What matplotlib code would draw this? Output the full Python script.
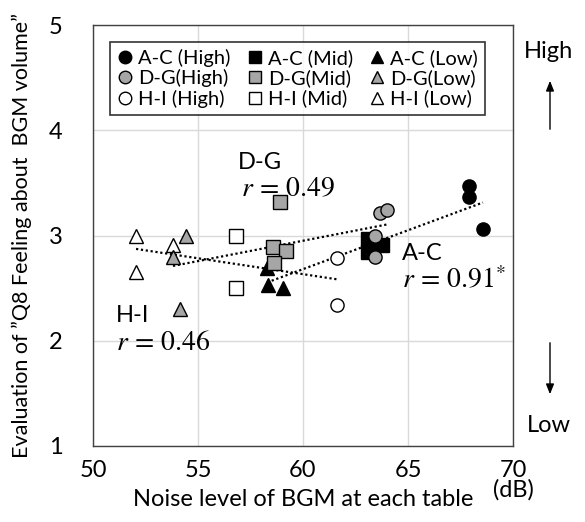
import numpy as np
import matplotlib
matplotlib.use("Agg")
import matplotlib.pyplot as plt
from matplotlib.lines import Line2D
from matplotlib.patches import FancyArrowPatch

plt.rcParams['font.family'] = ['Lato', 'DejaVu Sans']
plt.rcParams['mathtext.fontset'] = 'stix'

# ---- data (noise level dB, evaluation) ----
ac_high_x = [67.9, 67.9, 68.57]
ac_high_y = [3.47, 3.37, 3.06]
ac_mid_x = [63.1, 63.1, 63.76]
ac_mid_y = [2.97, 2.84, 2.91]
ac_low_x = [58.29, 58.33, 59.05]
ac_low_y = [2.69, 2.53, 2.50]

dg_high_x = [63.43, 63.43, 63.67, 64.0]
dg_high_y = [3.0, 2.80, 3.21, 3.24]
dg_mid_x = [58.90, 58.57, 59.19, 58.62]
dg_mid_y = [3.32, 2.89, 2.85, 2.74]
dg_low_x = [54.43, 53.81, 54.14]
dg_low_y = [3.0, 2.80, 2.30]

hi_high_x = [61.62, 61.62]
hi_high_y = [2.79, 2.34]
hi_mid_x = [56.81, 56.81]
hi_mid_y = [3.0, 2.50]
hi_low_x = [52.05, 52.05, 53.81]
hi_low_y = [3.0, 2.65, 2.91]

group_names = ['A-C', 'D-G', 'H-I']
r_labels = ['0.91^{*}', '0.49', '0.46']
level_names = ['High', 'Mid', 'Low']
level_labels = ['(High)', '(Mid)', '(Low)']

W, H = 585, 522
fig = plt.figure(figsize=(W / 100, H / 100), dpi=100)
ax = fig.add_axes([93 / W, 1 - 446 / H, 420 / W, 421 / H])

GRAY = '#a6a6a6'
fills = {'A-C': 'black', 'D-G': GRAY, 'H-I': 'white'}
markers = {'High': 'o', 'Mid': 's', 'Low': '^'}
ms = {'o': 9.5, 's': 9.5, '^': 10}

data = {
    'A-C': {'High': (ac_high_x, ac_high_y), 'Mid': (ac_mid_x, ac_mid_y), 'Low': (ac_low_x, ac_low_y)},
    'D-G': {'High': (dg_high_x, dg_high_y), 'Mid': (dg_mid_x, dg_mid_y), 'Low': (dg_low_x, dg_low_y)},
    'H-I': {'High': (hi_high_x, hi_high_y), 'Mid': (hi_mid_x, hi_mid_y), 'Low': (hi_low_x, hi_low_y)},
}

# trend lines (least squares per group)
for g in group_names:
    xs = np.concatenate([data[g][l][0] for l in level_names])
    ys = np.concatenate([data[g][l][1] for l in level_names])
    k, b = np.polyfit(xs, ys, 1)
    xx = np.array([xs.min(), xs.max()])
    ax.plot(xx, k * xx + b, color='black', lw=1.6, ls=(0, (1, 1.2)), zorder=2)

order = [('H-I', 'Low'), ('D-G', 'Low'), ('H-I', 'Mid'), ('H-I', 'High'),
         ('A-C', 'Low'), ('D-G', 'Mid'), ('A-C', 'Mid'), ('D-G', 'High'), ('A-C', 'High')]
for g, l in order:
    x, y = data[g][l]
    m = markers[l]
    ax.plot(x, y, ls='none', marker=m, ms=ms[m], mfc=fills[g], mec='black',
            mew=1.0, zorder=3)

ax.set_xlim(50, 70)
ax.set_ylim(1, 5)
ax.set_xticks([50, 55, 60, 65, 70])
ax.set_yticks([1, 2, 3, 4, 5])
ax.grid(True, color='#d9d9d9', lw=1)
ax.set_axisbelow(True)
for s in ax.spines.values():
    s.set_color('#404040')
    s.set_linewidth(1.0)
ax.tick_params(length=0, labelsize=17)
ax.tick_params(axis='x', pad=10)
ax.tick_params(axis='y', pad=22)

ax.set_xlabel('Noise level of BGM at each table', fontsize=17, labelpad=6)
ax.set_ylabel('Evaluation of \u201dQ8 Feeling about  BGM volume\u201d', fontsize=15.5, labelpad=12)
fig.text(513 / W, 1 - 490 / H, '(dB)', fontsize=17, ha='center', va='center')

# legend
handles = []
labels = []
for i, l in enumerate(level_names):
    for g in group_names:
        m = markers[l]
        handles.append(Line2D([], [], ls='none', marker=m, ms=9, mfc=fills[g], mec='black', mew=1.0))
        sep = '' if g == 'D-G' else ' '
        labels.append(f'{g}{sep}{level_labels[i]}')
leg = ax.legend(handles, labels, ncol=3, loc='upper left', bbox_to_anchor=(0.04, 0.96),
                fontsize=14.5, frameon=True, fancybox=False, edgecolor='black',
                handlelength=0.8, handletextpad=0.25, columnspacing=0.8,
                labelspacing=0.12, borderpad=0.35, borderaxespad=0)
leg.get_frame().set_linewidth(1.2)

# group annotations
ax.text(56.9, 3.69, 'D-G', fontsize=17, ha='left', va='center')
ax.text(57.05, 3.45, r'$r\,=\,' + r_labels[1] + '$', fontsize=20, ha='left', va='center')
ax.text(64.7, 2.83, 'A-C', fontsize=17, ha='left', va='center')
ax.text(64.7, 2.58, r'$r\,=\,' + r_labels[0] + '$', fontsize=20, ha='left', va='center')
ax.text(51.1, 2.24, 'H-I', fontsize=17, ha='left', va='center')
ax.text(51.1, 1.99, r'$r\,=\,' + r_labels[2] + '$', fontsize=20, ha='left', va='center')

# High / Low arrows at right
fig.text(549 / W, 1 - 52 / H, 'High', fontsize=17, ha='center', va='center')
fig.text(549 / W, 1 - 425 / H, 'Low', fontsize=17, ha='center', va='center')
fig.add_artist(FancyArrowPatch((550 / W, 1 - 132 / H), (550 / W, 1 - 78 / H),
               transform=fig.transFigure, arrowstyle='-|>,head_length=0.5,head_width=0.2',
               color='black', lw=1.0, mutation_scale=12))
fig.add_artist(FancyArrowPatch((550 / W, 1 - 340 / H), (550 / W, 1 - 397 / H),
               transform=fig.transFigure, arrowstyle='-|>,head_length=0.5,head_width=0.2',
               color='black', lw=1.0, mutation_scale=12))

fig.savefig('out.png', dpi=100)
